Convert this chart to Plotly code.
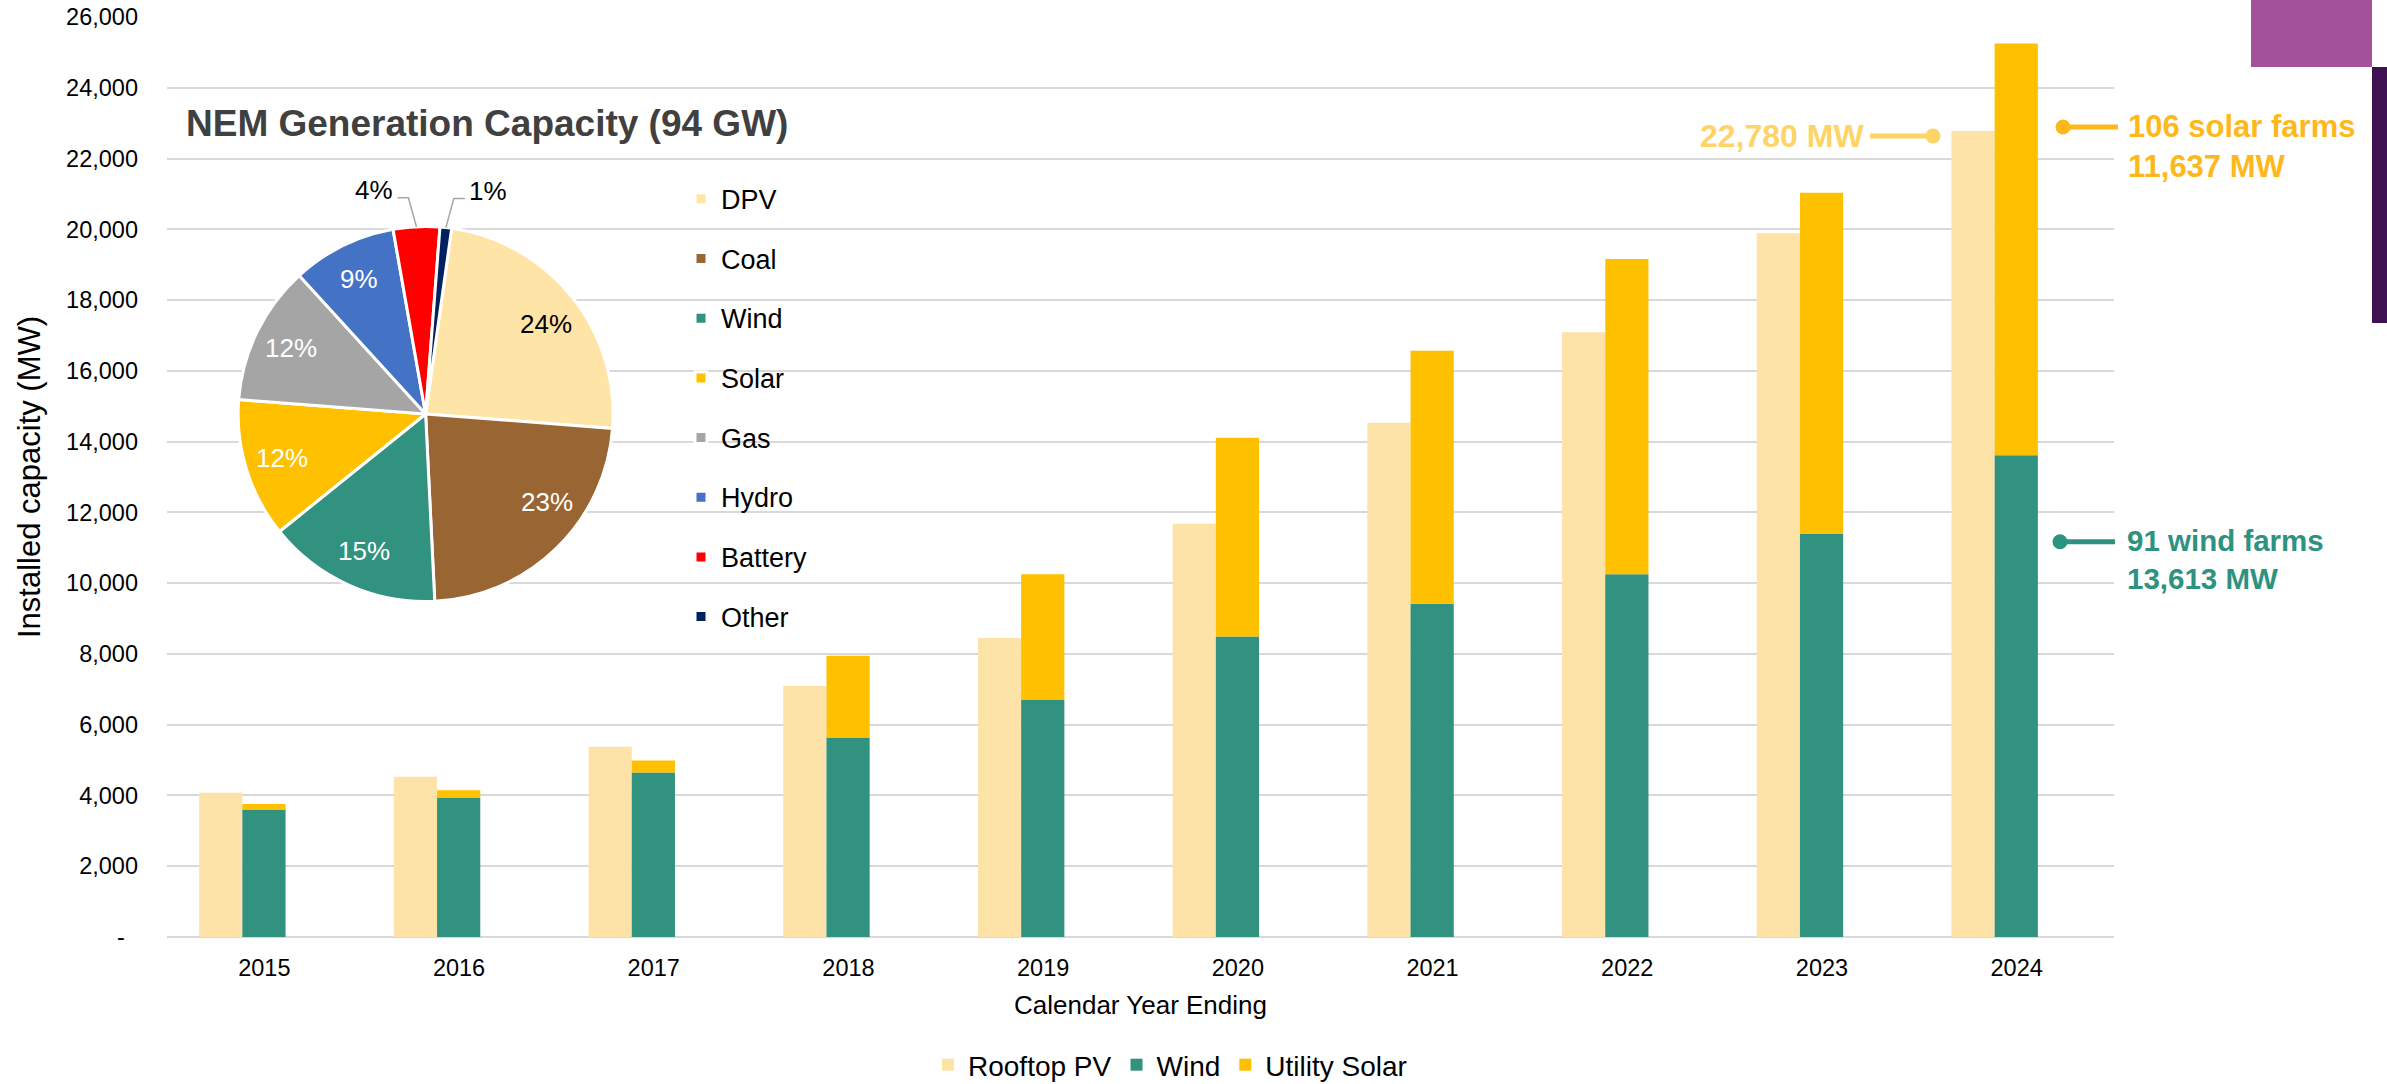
import math
import plotly.graph_objects as go

# bar chart data (MW)
years = [2015, 2016, 2017, 2018, 2019, 2020, 2021, 2022, 2023, 2024]
rooftop_pv = [4080, 4530, 5380, 7090, 8450, 11680, 14530, 17090, 19890, 22780]
wind = [3600, 3940, 4650, 5640, 6700, 8490, 9420, 10250, 11390, 13613]
utility_solar = [160, 210, 340, 2310, 3555, 5620, 7150, 8910, 9640, 11637]
solar_farms = 106
wind_farms = 91

# pie data (% of NEM capacity)
pie_names = ["DPV", "Coal", "Wind", "Solar", "Gas", "Hydro", "Battery", "Other"]
pie_share = [24, 23, 15, 12, 12, 9, 4, 1]
pie_colors = ["#FFE4A8", "#996633", "#319280", "#FFC000", "#A5A5A5", "#4472C4", "#FF0000", "#002060"]
pie_text_colors = ["black", "white", "white", "white", "white", "white", "black", "black"]
label_nudge = [2, -10, 0, 0, 0, 0, 0, 0]  # degrees, excel "best fit" placement

yticks = list(range(0, 26001, 2000))
ytext = ["-\u00a0\u00a0"] + [f"{v:,}" for v in yticks[1:]]

FONT = "Liberation Sans, Arial, sans-serif"
W_, H_ = 2387, 1084
L, R, T, B = 167, 273, 17, 147
PW, PH = W_ - L - R, H_ - T - B


def px(x):
    return (x - L) / PW


def py(y):
    return (H_ - B - y) / PH


fig = go.Figure()

fig.add_trace(go.Bar(x=years, y=rooftop_pv, name="Rooftop PV", marker_color="#FDE3A7",
                     width=0.222, offset=-0.335, marker_line_width=0))
fig.add_trace(go.Bar(x=years, y=wind, name="Wind", marker_color="#319280",
                     width=0.222, offset=-0.113, marker_line_width=0))
fig.add_trace(go.Bar(x=years, y=utility_solar, base=wind, name="Utility Solar", marker_color="#FFC000",
                     width=0.222, offset=-0.113, marker_line_width=0))

# pie
cx, cy, r = 425.6, 414, 187.5
rot = 8
fig.add_trace(go.Pie(
    values=pie_share,
    labels=[f"<span style='font-size:27px;baseline-shift:7px'>{n}</span>" for n in pie_names],
    marker=dict(colors=pie_colors, line=dict(color="white", width=3)),
    textinfo="none", sort=False, direction="clockwise", rotation=rot,
    domain=dict(x=[px(cx - r), px(cx + r)], y=[py(cy + r), py(cy - r)]),
    legend="legend2", hoverinfo="skip",
))

annotations = []
shapes = []

# pie percentage labels
total = sum(pie_share)
cum = 0
for v, tc, nd in zip(pie_share, pie_text_colors, label_nudge):
    a = math.radians(rot + 360 * (cum + v / 2) / total)
    cum += v
    if v >= 5:
        a2 = a + math.radians(nd)
        lx, ly = cx + 0.8 * r * math.sin(a2), cy - 0.8 * r * math.cos(a2)
        annotations.append(dict(x=px(lx), y=py(ly), xref="paper", yref="paper", text=f"{v}%",
                                xanchor="center", yanchor="middle", showarrow=False,
                                font=dict(size=26, color=tc, family=FONT)))
    else:
        s, c = math.sin(a), math.cos(a)
        ex, ey = cx + r * s, cy - r * c
        d = 1 if s > 0 else -1
        bx, by = ex + d * 8, ey - 29
        hx = bx + d * 11
        shapes.append(dict(type="path", xref="paper", yref="paper",
                           path=f"M{px(ex)},{py(ey)} L{px(bx)},{py(by)} L{px(hx)},{py(by)}",
                           line=dict(color="#A6A6A6", width=1.5)))
        annotations.append(dict(x=px(hx + d * 2), y=py(by - 8), xref="paper", yref="paper", text=f"{v}%",
                                xanchor="left" if d > 0 else "right", yanchor="middle", showarrow=False,
                                font=dict(size=26, color=tc, family=FONT)))

# pie title
annotations.append(dict(x=px(184), y=py(123), xref="paper", yref="paper", xanchor="left", yanchor="middle",
                        text="<b>NEM Generation Capacity (94 GW)</b>", showarrow=False,
                        font=dict(size=37, color="#404040", family=FONT)))


# callouts
def callout(x0, x1, y, dot_x, color):
    shapes.append(dict(type="line", xref="paper", yref="paper", x0=px(x0), x1=px(x1), y0=py(y), y1=py(y),
                       line=dict(color=color, width=5)))
    shapes.append(dict(type="circle", xref="paper", yref="paper", x0=px(dot_x - 7.5), x1=px(dot_x + 7.5),
                       y0=py(y + 7.5), y1=py(y - 7.5), fillcolor=color, line=dict(width=0)))


callout(1870, 1933, 136, 1933, "#FFD466")
annotations.append(dict(x=px(1866), y=py(136), xref="paper", yref="paper", xanchor="right", yanchor="middle",
                        text=f"<b>{rooftop_pv[-1]:,} MW</b>", showarrow=False,
                        font=dict(size=32, color="#FFD466", family=FONT)))
callout(2063, 2118, 127, 2063, "#FFB81C")
annotations.append(dict(x=px(2126), y=py(146), xref="paper", yref="paper", xanchor="left", yanchor="middle",
                        align="left", text=f"<b>{solar_farms} solar farms<br>{utility_solar[-1]:,} MW</b>",
                        showarrow=False, font=dict(size=31, color="#FFB81C", family=FONT)))
callout(2060, 2115, 541.7, 2060, "#2E9281")
annotations.append(dict(x=px(2125), y=py(559), xref="paper", yref="paper", xanchor="left", yanchor="middle",
                        align="left", text=f"<b>{wind_farms} wind farms<br>{wind[-1]:,} MW</b>",
                        showarrow=False, font=dict(size=29.5, color="#2E9281", family=FONT)))

# purple corner blocks
shapes.append(dict(type="rect", xref="paper", yref="paper", x0=px(2251), x1=px(2372), y0=py(67), y1=py(-5),
                   fillcolor="#A35199", line=dict(width=0), layer="below"))
shapes.append(dict(type="rect", xref="paper", yref="paper", x0=px(2372), x1=px(2395), y0=py(323), y1=py(67),
                   fillcolor="#3D1152", line=dict(width=0), layer="below"))

fig.update_layout(
    width=W_, height=H_,
    margin=dict(l=L, r=R, t=T, b=B, autoexpand=False),
    paper_bgcolor="white", plot_bgcolor="white",
    font=dict(family=FONT, color="black"),
    barmode="overlay",
    showlegend=True,
    legend=dict(orientation="h", x=px(1170), xanchor="center", y=py(1065), yanchor="middle",
                font=dict(size=28, color="black"), bgcolor="rgba(0,0,0,0)", traceorder="normal"),
    legend2=dict(x=px(681), xanchor="left", y=py(164), yanchor="top", valign="middle",
                 font=dict(size=43.6, color="black"), bgcolor="rgba(0,0,0,0)"),
    annotations=annotations,
    shapes=shapes,
    xaxis=dict(range=[2014.5, 2024.5], tickvals=years, ticktext=[str(y) for y in years],
               tickfont=dict(size=23.5, color="black"), showgrid=False, zeroline=False,
               ticks="", ticklabelstandoff=14, automargin=False,
               title=dict(text="Calendar Year Ending", font=dict(size=26, color="black"), standoff=16)),
    yaxis=dict(range=[0, 26000], tickvals=yticks, ticktext=ytext,
               tickfont=dict(size=23.5, color="black"), gridcolor="#D9D9D9", gridwidth=2,
               zeroline=True, zerolinecolor="#D9D9D9", zerolinewidth=2,
               ticks="", ticklabelstandoff=28, automargin=False,
               title=dict(text="Installed capacity (MW)", font=dict(size=31, color="black"), standoff=16)),
)

fig.write_html("out.html", config={"displayModeBar": False},
               post_script="document.body.style.margin='0px';document.body.style.overflow='hidden';")
